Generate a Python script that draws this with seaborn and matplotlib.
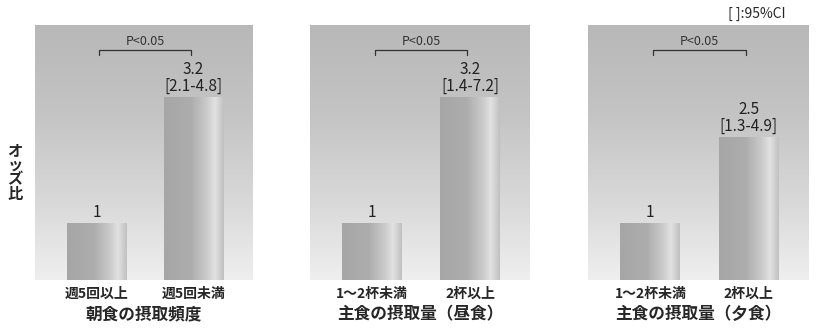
import numpy as np
import pandas as pd
import matplotlib.pyplot as plt
import seaborn as sns

# data
titles = ['朝食の摂取頻度', '主食の摂取量（昼食）', '主食の摂取量（夕食）']
cats_1 = ['週5回以上', '週5回未満']
cats_2 = ['1～2杯未満', '2杯以上']
cats_3 = ['1～2杯未満', '2杯以上']
odds_1 = [1, 3.2]
odds_2 = [1, 3.2]
odds_3 = [1, 2.5]
ci_1 = ['', '[2.1-4.8]']
ci_2 = ['', '[1.4-7.2]']
ci_3 = ['', '[1.3-4.9]']
p_text = 'P<0.05'

sns.set_style('white')
plt.rcParams['font.family'] = ['Liberation Sans Narrow', 'Noto Sans CJK JP', 'DejaVu Sans']
jp = ['Noto Sans CJK JP', 'DejaVu Sans']

fig = plt.figure(figsize=(8.34, 3.30), dpi=100)
W, H = 834, 330
boxes = [(35, 218), (310, 220), (588, 221)]
panels = [(cats_1, odds_1, ci_1), (cats_2, odds_2, ci_2), (cats_3, odds_3, ci_3)]

# gradients
bg = np.linspace(0, 1, 256).reshape(-1, 1)
bg_cmap = plt.matplotlib.colors.LinearSegmentedColormap.from_list(
    'bg', [(0, '#efefef'), (0.3, '#d9d9d9'), (0.65, '#c4c4c4'), (1, '#b8b8b8')])
bar_grad = np.linspace(0, 1, 256).reshape(1, -1)
bar_cmap = plt.matplotlib.colors.LinearSegmentedColormap.from_list(
    'bar', [(0, '#a6a6a6'), (0.45, '#adadad'), (0.72, '#cbcbcb'),
            (0.85, '#e2e2e2'), (1, '#c0c0c0')])

for i, ((left, width), (cats, vals, cis)) in enumerate(zip(boxes, panels)):
    ax = fig.add_axes([left / W, 50 / H, width / W, 255 / H])
    df = pd.DataFrame({'cat': cats, 'odds': vals})
    sns.barplot(data=df, x='cat', y='odds', ax=ax, color='#b8b8b8', width=0.61)
    ax.imshow(bg, extent=[-0.634, 1.613, 0, 4.46], aspect='auto', cmap=bg_cmap,
              origin='lower', zorder=0)
    for p in ax.patches:
        x0, y0 = p.get_x(), p.get_y()
        im = ax.imshow(bar_grad, extent=[x0, x0 + p.get_width(), y0, y0 + p.get_height()],
                       aspect='auto', cmap=bar_cmap, zorder=3)
        im.set_clip_path(p)
        p.set_edgecolor('none')
    ax.set_xlim(-0.634, 1.613)
    ax.set_ylim(0, 4.46)
    for j, (v, c) in enumerate(zip(vals, cis)):
        label = f'{v:g}' if not c else f'{v:g}\n{c}'
        ax.text(j, v + 0.04, label, ha='center', va='bottom', fontsize=11,
                linespacing=1.0, color='#222222')
    # significance bracket
    ax.plot([0.03, 0.03, 0.97, 0.97], [3.93, 4.02, 4.02, 3.93], color='#333333', lw=0.9)
    ax.text(0.5, 4.06, p_text, ha='center', va='bottom', fontsize=9, color='#333333')
    ax.set_xlabel(titles[i], fontsize=12, fontweight='bold', family=jp, labelpad=3)
    ax.set_ylabel('')
    ax.set_yticks([])
    ax.tick_params(axis='x', length=0, pad=5)
    for t in ax.get_xticklabels():
        t.set_fontfamily(jp)
        t.set_fontsize(10)
        t.set_fontweight('bold')
    sns.despine(ax=ax, left=True, bottom=True)

fig.text(15 / W, 1 - 172 / H, 'オ\nッ\nズ\n比', ha='center', va='center', fontsize=11,
         family=jp, fontweight='bold', linespacing=0.9)
fig.text(728 / W, 1 - 14 / H, '[ ]:95%CI', ha='left', va='center', fontsize=10)

fig.savefig('out.png', dpi=100)
